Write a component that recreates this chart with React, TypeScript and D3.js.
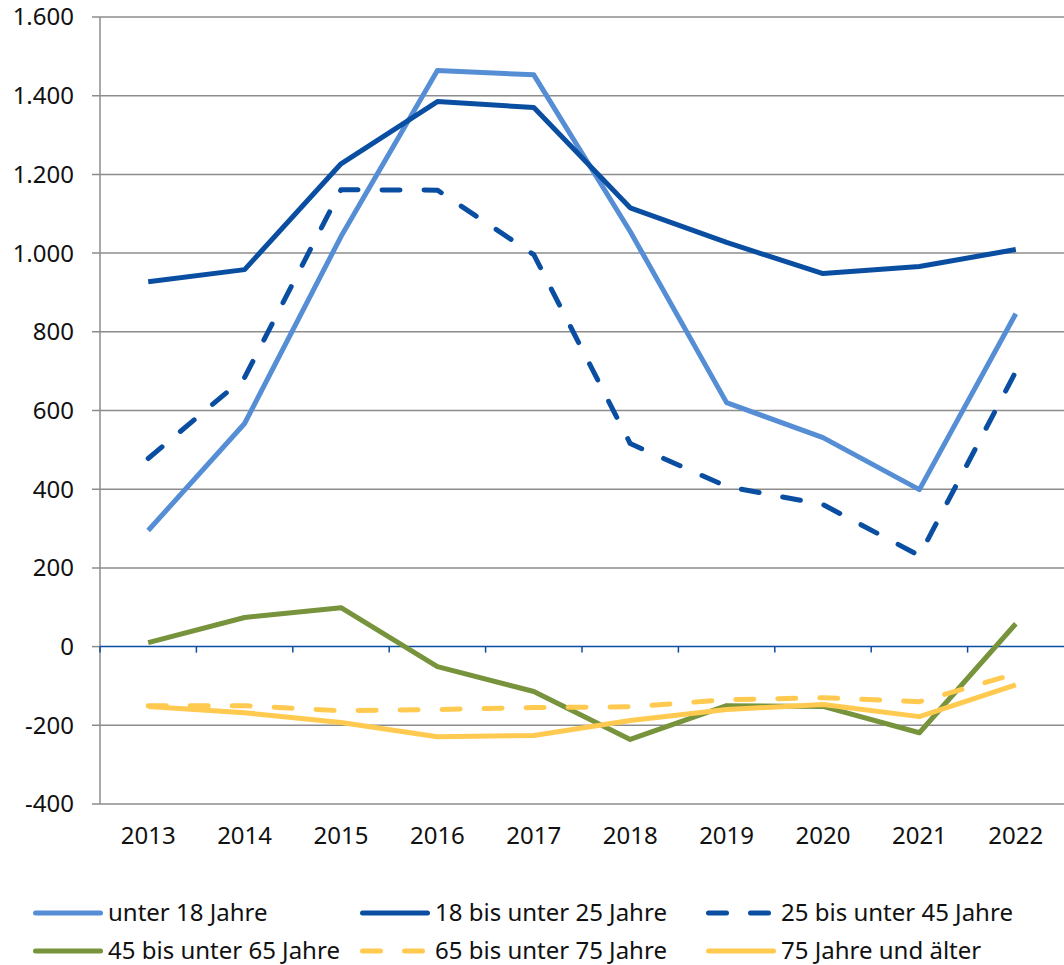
import React from 'react';
import * as d3 from 'd3';

const years = ['2013', '2014', '2015', '2016', '2017', '2018', '2019', '2020', '2021', '2022'];
const yTicks = [-400, -200, 0, 200, 400, 600, 800, 1000, 1200, 1400, 1600];

const unter18 = [295, 567, 1042, 1464, 1453, 1055, 620, 531, 399, 846];
const bis25 = [927, 958, 1227, 1385, 1370, 1115, 1027, 948, 966, 1009];
const bis45 = [478, 684, 1161, 1160, 996, 516, 407, 361, 231, 699];
const bis65 = [10, 74, 99, -51, -114, -236, -150, -152, -219, 58];
const bis75 = [-150, -150, -163, -160, -155, -153, -135, -130, -140, -69];
const ab75 = [-152, -168, -193, -229, -226, -188, -160, -147, -178, -97];

const seriesNames = [
  'unter 18 Jahre',
  '18 bis unter 25 Jahre',
  '25 bis unter 45 Jahre',
  '45 bis unter 65 Jahre',
  '65 bis unter 75 Jahre',
  '75 Jahre und älter',
];

const series = [
  { name: seriesNames[0], values: unter18, color: '#558ed5', dash: null },
  { name: seriesNames[1], values: bis25, color: '#0a4ea2', dash: null },
  { name: seriesNames[2], values: bis45, color: '#0a4ea2', dash: '18 24' },
  { name: seriesNames[3], values: bis65, color: '#77933c', dash: null },
  { name: seriesNames[4], values: bis75, color: '#ffca4f', dash: '18 24' },
  { name: seriesNames[5], values: ab75, color: '#ffca4f', dash: null },
];

const W = 1064;
const H = 965;
const FONT = '"Noto Sans", "Open Sans", sans-serif';

// German number format: 1.600, -200
const fmt = (v: number) => d3.format(',')(v).replace(/,/g, '.').replace('\u2212', '-');

export default function App() {
  const left = 100;
  const right = 1064;
  const top = 17;
  const bottom = 804;

  const x = d3.scaleBand().domain(years).range([left, right]);
  const y = d3.scaleLinear().domain([-400, 1600]).range([bottom, top]);

  const line = d3
    .line<number>()
    .x((d, i) => (x(years[i]) as number) + x.bandwidth() / 2)
    .y(d => y(d));

  const legendPos = [
    { lx: 33, ly: 913 },
    { lx: 360, ly: 913 },
    { lx: 706, ly: 913 },
    { lx: 33, ly: 951 },
    { lx: 360, ly: 951 },
    { lx: 706, ly: 951 },
  ];

  return (
    <svg
      width={W}
      height={H}
      style={{ position: 'absolute', left: 0, top: 0, display: 'block', background: '#fff' }}
    >
      {/* grid */}
      {yTicks.map(t => (
        <g key={t}>
          {t !== 0 && (
            <line x1={left - 8} x2={right} y1={y(t)} y2={y(t)} stroke="#8c8c8c" strokeWidth={1.5} />
          )}
          <text
            x={74}
            y={y(t)}
            dy="0.35em"
            textAnchor="end"
            fontFamily={FONT}
            fontSize={24}
            fill="#111"
          >
            {fmt(t)}
          </text>
        </g>
      ))}
      <line x1={left} x2={left} y1={top} y2={bottom} stroke="#8c8c8c" strokeWidth={1.5} />
      <line x1={left - 8} x2={left} y1={y(0)} y2={y(0)} stroke="#8c8c8c" strokeWidth={1.5} />

      {/* zero axis */}
      <line x1={left} x2={right} y1={y(0)} y2={y(0)} stroke="#0a4ea2" strokeWidth={1.5} />
      {years.map(yr => (
        <line
          key={yr}
          x1={x(yr) as number}
          x2={x(yr) as number}
          y1={y(0)}
          y2={y(0) + 6}
          stroke="#0a4ea2"
          strokeWidth={1.5}
        />
      ))}

      {/* x labels */}
      {years.map(yr => (
        <text
          key={yr}
          x={(x(yr) as number) + x.bandwidth() / 2}
          y={836}
          dy="0.35em"
          textAnchor="middle"
          fontFamily={FONT}
          fontSize={24}
          fill="#111"
        >
          {yr}
        </text>
      ))}

      {/* lines */}
      {series.map(s => (
        <path
          key={s.name}
          d={line(s.values) || ''}
          fill="none"
          stroke={s.color}
          strokeWidth={5}
          strokeLinejoin="round"
          strokeLinecap={s.dash ? 'round' : 'butt'}
          strokeDasharray={s.dash || undefined}
        />
      ))}

      {/* legend */}
      {series.map((s, i) => {
        const p = legendPos[i];
        return (
          <g key={s.name}>
            <line
              x1={p.lx + 2.5}
              x2={p.lx + 67.5}
              y1={p.ly}
              y2={p.ly}
              stroke={s.color}
              strokeWidth={5}
              strokeLinecap="round"
              strokeDasharray={s.dash || undefined}
            />
            <text
              x={p.lx + 75}
              y={p.ly}
              dy="0.35em"
              fontFamily={FONT}
              fontSize={24}
              fill="#111"
            >
              {s.name}
            </text>
          </g>
        );
      })}
    </svg>
  );
}
